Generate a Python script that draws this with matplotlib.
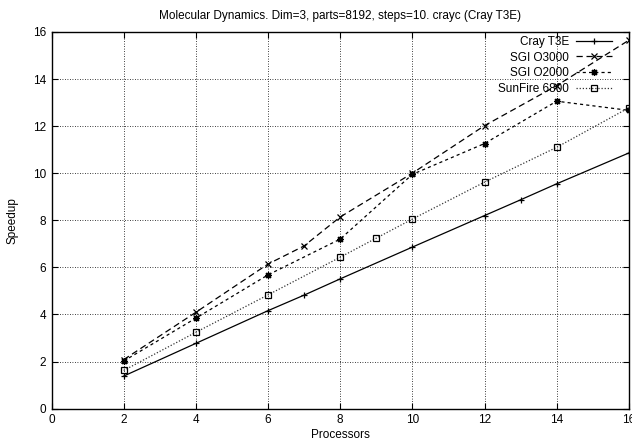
import numpy as np
import matplotlib.pyplot as plt

plt.rcParams['font.family'] = ['Liberation Sans', 'DejaVu Sans']

# data
procs_cray = [2, 4, 6, 7, 8, 10, 12, 13, 14, 16]
cray_t3e = [1.38, 2.77, 4.16, 4.82, 5.51, 6.86, 8.2, 8.87, 9.55, 10.86]

procs_o3000 = [2, 4, 6, 7, 8, 10, 12, 14, 16]
sgi_o3000 = [2.08, 4.09, 6.14, 6.91, 8.14, 10.0, 12.02, 13.72, 15.65]

procs_o2000 = [2, 4, 6, 8, 10, 12, 14, 16]
sgi_o2000 = [2.02, 3.84, 5.68, 7.2, 9.95, 11.26, 13.06, 12.67]

procs_sun = [2, 4, 6, 8, 9, 10, 12, 14, 16]
sunfire = [1.62, 3.24, 4.83, 6.43, 7.24, 8.05, 9.62, 11.1, 12.78]

xticks = np.arange(0, 17, 2)
yticks = np.arange(0, 17, 2)

fig = plt.figure(figsize=(6.32, 4.48), dpi=100)
ax = fig.add_axes([0.0815, 0.088, 0.9135, 0.8406])

ax.plot(procs_cray, cray_t3e, color='black', linestyle='-', linewidth=0.9,
        marker='+', markersize=5, markeredgewidth=0.9, label='Cray T3E')
ax.plot(procs_o3000, sgi_o3000, color='black', linestyle=(0, (5, 3)), linewidth=0.9,
        marker='x', markersize=4.5, markeredgewidth=0.9, label='SGI O3000')
ax.plot(procs_o2000, sgi_o2000, color='black', linestyle=(0, (2.5, 2.5)), linewidth=0.9,
        marker=(8, 2, 0), markersize=5, markeredgewidth=0.9, label='SGI O2000')
ax.plot(procs_sun, sunfire, color='#333333', linestyle=(0, (1, 1.5)), linewidth=0.9,
        marker='s', markersize=5, markerfacecolor='none', markeredgewidth=0.9,
        markeredgecolor='black', label='SunFire 6800')

ax.set_xlim(0, 16)
ax.set_ylim(0, 16)
ax.set_xticks(xticks)
ax.set_yticks(yticks)
ax.tick_params(direction='in', top=True, right=True, length=4, width=0.8, labelsize=8.5, pad=4)
ax.grid(True, linestyle=(0, (1, 2)), color='black', linewidth=0.6)
for s in ax.spines.values():
    s.set_linewidth(1.0)

ax.set_title('Molecular Dynamics. Dim=3, parts=8192, steps=10. crayc (Cray T3E)', fontsize=8.5, pad=9)
ax.set_xlabel('Processors', fontsize=8.5, labelpad=2)
ax.set_ylabel('Speedup', fontsize=8.5, labelpad=10)

leg = ax.legend(loc='upper right', frameon=False, fontsize=8.5, markerfirst=False,
                handlelength=3.1, handletextpad=0.55, labelspacing=0.33,
                borderaxespad=0, bbox_to_anchor=(1 - 12 / 577, 1 + 1 / 376))
for t in leg.get_texts():
    t.set_ha('right')

fig.savefig('out.png', dpi=100)
